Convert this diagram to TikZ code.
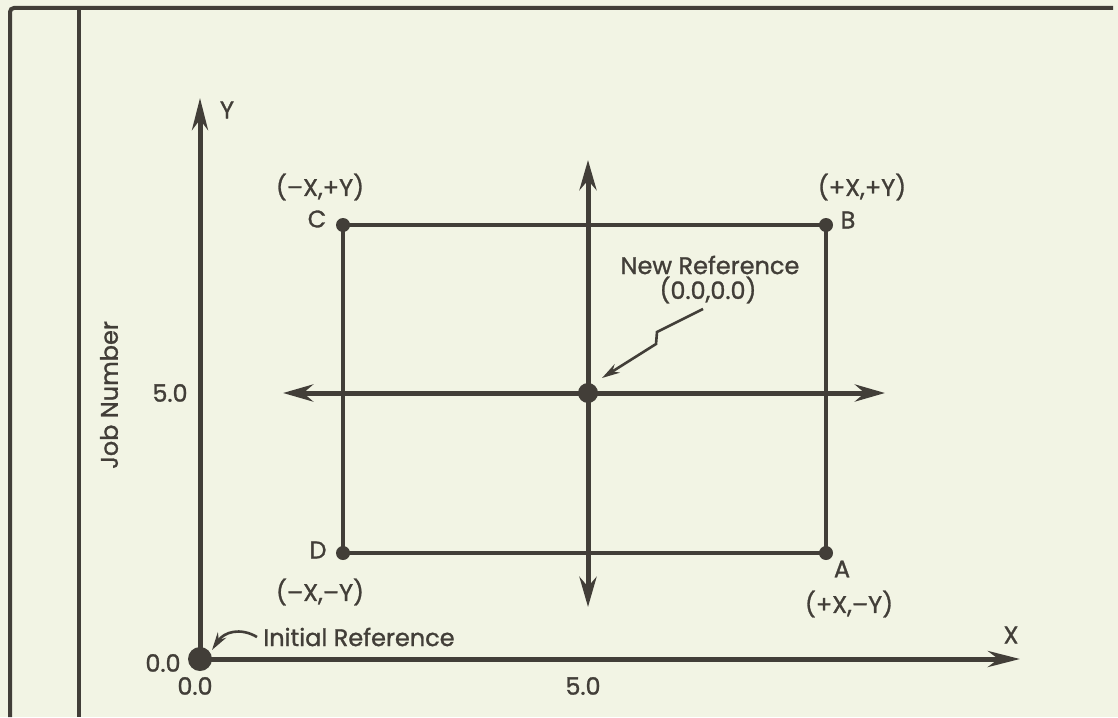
\documentclass[tikz,border=0pt]{standalone}
\usepackage{fontspec}
\setmainfont{Poppins}[FakeBold=1.2]
\usetikzlibrary{arrows.meta,positioning}
\definecolor{ink}{HTML}{423E38}
\definecolor{paper}{HTML}{F2F4E4}

\begin{document}
\begin{tikzpicture}[x=0.5pt, y=-0.5pt,
      axis/.style={-{Stealth[length=16pt,width=8pt]}, line width=2.5pt, ink},
      cross/.style={{Stealth[length=15pt,width=8.5pt]}-{Stealth[length=15pt,width=8.5pt]}, line width=2.5pt, ink},
      box/.style={line width=2pt, ink, line join=round},
      frame/.style={line width=2pt, ink},
      pointer/.style={-{Stealth[length=9pt,width=5pt]}, line width=1.3pt, ink},
      lbl/.style={font=\fontsize{12}{14}\selectfont, text=ink, inner sep=0pt},
      dot/.style={circle, fill=ink, inner sep=0pt, minimum size=#1},
      dot/.default=7pt
    ]
      \fill[paper] (0,0) rectangle (1118,717);
      \useasboundingbox (0,0) rectangle (1118,717);

      % Frame
      \draw[frame, rounded corners=2pt] (10,717) -- (10,8) -- (1113,8);
      \draw[frame] (79,8) -- (79,717);

      % Axes
      \node[dot=12pt] (o) at (200,659) {};
      \coordinate (xtip) at (1020,659);
      \coordinate (ytip) at (200,98);
      \draw[axis] (o.center) -- (xtip);
      \draw[axis] (o.center) -- (ytip);
      \node[lbl] (ylbl) at (227,110) {Y};
      \node[lbl] (xlbl) at (1011,635) {X};
      \node[lbl] (oy) at (163,663) {0.0};
      \node[lbl] (ox) at (195,686) {0.0};
      \node[lbl] (fx) at (583,686) {5.0};
      \node[lbl] (fy) at (170,393) {5.0};
      \node[lbl, rotate=90] (job) at (109,395) {Job Number};

      % Corners
      \node[dot] (C) at (343,225) {};
      \node[dot] (B) at (826,225) {};
      \node[dot] (A) at (826,553) {};
      \node[dot] (D) at (343,553) {};
      \draw[box] (A.center) -- (B.center) -- (C.center) -- (D.center) -- cycle;
      \node[lbl] (cname) at (317,219) {C};
      \node[lbl] (cpos) at (320,187) {(–X,+Y)};
      \node[lbl] (bname) at (848,220) {B};
      \node[lbl] (bpos) at (862,187) {(+X,+Y)};
      \node[lbl] (dname) at (318,550) {D};
      \node[lbl] (dpos) at (320,592) {(–X,–Y)};
      \node[lbl] (aname) at (842,569) {A};
      \node[lbl] (apos) at (849,604) {(+X,–Y)};

      % New reference
      \node[dot=10pt] (nr) at (588,393) {};
      \coordinate (hl) at (283,393);
      \coordinate (hr) at (885,393);
      \coordinate (vt) at (588,160);
      \coordinate (vb) at (588,607);
      \draw[cross] (hl) -- (hr);
      \draw[cross] (vt) -- (vb);
      \node[lbl] (nrname) at (710,265) {New Reference};
      \node[lbl] (nrpos) at (708,290) {(0.0,0.0)};
      \coordinate (zs) at (703,309);
      \coordinate (za) at (657,332);
      \coordinate (zb) at (656,344);
      \coordinate (zt) at (602,378);
      \draw[pointer] (zs) -- (za) -- (zb) -- (zt);

      % Initial reference
      \node[lbl] (ir) at (359,637) {Initial Reference};
      \coordinate (is) at (257,637);
      \coordinate (it) at (212,650);
      \draw[pointer] (is) .. controls (240,627) and (224,632) .. (it);
    \end{tikzpicture}
\end{document}
